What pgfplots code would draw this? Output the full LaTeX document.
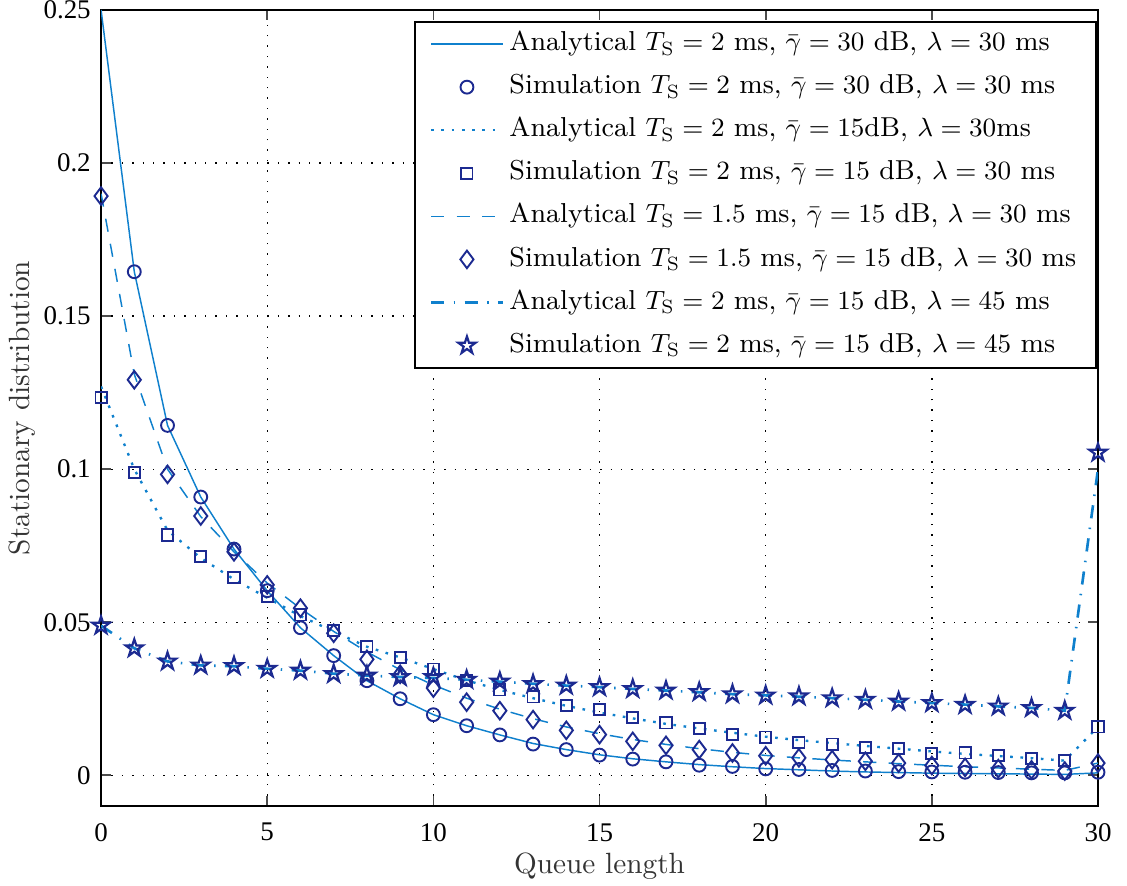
\documentclass[border=0pt]{standalone}
\usepackage{fontspec}
\usepackage{pgfplots}
\pgfplotsset{compat=1.18}
\newfontfamily\timesfont{Liberation Serif}
\definecolor{lineblue}{RGB}{15,128,205}
\definecolor{markblue}{RGB}{28,42,145}
\pgfdeclareplotmark{pentagram}{%
  \pgfpathmoveto{\pgfpointpolar{90}{\pgfplotmarksize}}%
  \pgfpathlineto{\pgfpointpolar{126}{0.382\pgfplotmarksize}}%
  \pgfpathlineto{\pgfpointpolar{162}{\pgfplotmarksize}}%
  \pgfpathlineto{\pgfpointpolar{198}{0.382\pgfplotmarksize}}%
  \pgfpathlineto{\pgfpointpolar{234}{\pgfplotmarksize}}%
  \pgfpathlineto{\pgfpointpolar{270}{0.382\pgfplotmarksize}}%
  \pgfpathlineto{\pgfpointpolar{306}{\pgfplotmarksize}}%
  \pgfpathlineto{\pgfpointpolar{342}{0.382\pgfplotmarksize}}%
  \pgfpathlineto{\pgfpointpolar{18}{\pgfplotmarksize}}%
  \pgfpathlineto{\pgfpointpolar{54}{0.382\pgfplotmarksize}}%
  \pgfpathclose
  \pgfusepathqstroke
}
\begin{document}
\begin{tikzpicture}
\useasboundingbox (-34.5pt,-27.3pt) rectangle (350.2pt,275.1pt);
\begin{axis}[
  scale only axis, width=340.3pt, height=271.7pt,
  xmin=0, xmax=30, ymin=-0.01, ymax=0.25,
  xtick={0,5,10,15,20,25,30}, xticklabels={0,5,10,15,20,25,30},
  ytick={0,0.05,0.1,0.15,0.2,0.25}, yticklabels={0,0.05,0.1,0.15,0.2,0.25},
  tick align=inside, major tick length=3.4pt, tick pos=both,
  grid=major, grid style={black, line width=0.45pt, dash pattern=on 0.45pt off 3.1pt},
  axis line style={line width=0.7pt},
  tick style={line width=0.6pt, black!70},
  tick label style={font=\timesfont\fontsize{9.2}{11}\selectfont},
  xticklabel style={yshift=-2.4pt},
  xlabel={Queue length}, ylabel={Stationary distribution},
  label style={font=\fontsize{10}{12}\selectfont, text=black!80},
  xlabel style={at={(axis description cs:0.5,-0.0755)}, anchor=center},
  ylabel style={at={(axis description cs:-0.0793,0.5)}, anchor=center},
  legend style={at={(1,1)}, anchor=north east, xshift=-0.3pt, yshift=-3.75pt,
    draw=black, line width=0.7pt, font=\fontsize{9.35}{11.2}\selectfont,
    inner xsep=5pt, inner ysep=1.8pt, row sep=3.2pt,
    nodes={inner xsep=1.8pt, inner ysep=1pt, text height=7pt, text depth=2.5pt},
    cells={anchor=west}},
  legend image code/.code={\draw[mark repeat=2,mark phase=2,#1] plot coordinates {(0cm,0cm)(0.43cm,0cm)(0.86cm,0cm)};},
]
% Analytical Ts=2, gamma=30 dB, lambda=30
\addplot[lineblue, line width=0.5pt, solid, no markers] coordinates {
(0,0.25)(1,0.1645)(2,0.1143)(3,0.0909)(4,0.0739)(5,0.0603)(6,0.0482)(7,0.0391)(8,0.0309)(9,0.025)
(10,0.0198)(11,0.0162)(12,0.0132)(13,0.0104)(14,0.0084)(15,0.0067)(16,0.0054)(17,0.0044)(18,0.0035)(19,0.0028)
(20,0.0022)(21,0.0018)(22,0.0014)(23,0.0011)(24,0.0009)(25,0.0007)(26,0.0006)(27,0.0005)(28,0.0004)(29,0.0003)(30,0.0008)};
\addlegendentry{Analytical $T_\mathrm{S}=2$ ms, $\bar{\gamma}=30$ dB, $\lambda=30$ ms}
% Simulation Ts=2, 30 dB
\addplot[only marks, mark=o, mark size=2.2pt, mark options={markblue, line width=0.65pt}] coordinates {
(1,0.1645)(2,0.1143)(3,0.0909)(4,0.0739)(5,0.0603)(6,0.0482)(7,0.0391)(8,0.0309)(9,0.025)
(10,0.0198)(11,0.0162)(12,0.0132)(13,0.0102)(14,0.0084)(15,0.0066)(16,0.0053)(17,0.0044)(18,0.0033)(19,0.0029)
(20,0.0021)(21,0.0019)(22,0.0016)(23,0.0014)(24,0.0012)(25,0.0011)(26,0.0010)(27,0.0009)(28,0.0008)(29,0.0008)(30,0.0010)};
\addlegendentry{Simulation $T_\mathrm{S}=2$ ms, $\bar{\gamma}=30$ dB, $\lambda=30$ ms}
% Analytical Ts=2, 15 dB, 30
\addplot[lineblue, line width=0.8pt, dash pattern=on 0.9pt off 2.6pt, no markers] coordinates {
(0,0.127)(1,0.1)(2,0.08)(3,0.071)(4,0.064)(5,0.058)(6,0.052)(7,0.047)(8,0.042)(9,0.0385)
(10,0.0347)(11,0.031)(12,0.0279)(13,0.0252)(14,0.0227)(15,0.0205)(16,0.0186)(17,0.0168)(18,0.0153)(19,0.0139)
(20,0.0126)(21,0.0115)(22,0.0105)(23,0.0096)(24,0.0087)(25,0.0078)(26,0.0070)(27,0.0063)(28,0.0056)(29,0.0048)(30,0.0158)};
\addlegendentry{Analytical $T_\mathrm{S}=2$ ms, $\bar{\gamma}=15$dB, $\lambda=30$ms}
% Simulation Ts=2, 15 dB
\addplot[only marks, mark=square, mark size=1.9pt, mark options={markblue, line width=0.65pt}] coordinates {
(0,0.1233)(1,0.0989)(2,0.0785)(3,0.0714)(4,0.0647)(5,0.0584)(6,0.0524)(7,0.0472)(8,0.042)(9,0.0385)
(10,0.0347)(11,0.0310)(12,0.0279)(13,0.0256)(14,0.0227)(15,0.0214)(16,0.0189)(17,0.0171)(18,0.0154)(19,0.0134)
(20,0.0125)(21,0.0108)(22,0.0102)(23,0.0091)(24,0.0088)(25,0.0071)(26,0.0073)(27,0.0064)(28,0.0055)(29,0.0049)(30,0.0158)};
\addlegendentry{Simulation $T_\mathrm{S}=2$ ms, $\bar{\gamma}=15$ dB, $\lambda=30$ ms}
% Analytical Ts=1.5, 15 dB, 30
\addplot[lineblue, line width=0.5pt, dash pattern=on 4.5pt off 4.2pt, no markers] coordinates {
(0,0.19)(1,0.131)(2,0.1)(3,0.0845)(4,0.073)(5,0.0628)(6,0.0545)(7,0.047)(8,0.0403)(9,0.0345)
(10,0.0295)(11,0.0252)(12,0.0216)(13,0.0185)(14,0.0158)(15,0.0136)(16,0.0117)(17,0.0101)(18,0.0087)(19,0.0075)
(20,0.0065)(21,0.0057)(22,0.0050)(23,0.0044)(24,0.0038)(25,0.0033)(26,0.0028)(27,0.0024)(28,0.0020)(29,0.0016)(30,0.0040)};
\addlegendentry{Analytical $T_\mathrm{S}=1.5$ ms, $\bar{\gamma}=15$ dB, $\lambda=30$ ms}
% Simulation Ts=1.5
\addplot[only marks, mark=diamond, mark size=3pt, mark options={markblue, line width=0.65pt}] coordinates {
(0,0.1892)(1,0.1292)(2,0.0983)(3,0.0847)(4,0.073)(5,0.0622)(6,0.0546)(7,0.0464)(8,0.0379)(9,0.033)
(10,0.0285)(11,0.0239)(12,0.0211)(13,0.0182)(14,0.0147)(15,0.0133)(16,0.0111)(17,0.0098)(18,0.0084)(19,0.0073)
(20,0.0064)(21,0.0057)(22,0.0051)(23,0.0046)(24,0.004)(25,0.0032)(26,0.0026)(27,0.0022)(28,0.0018)(29,0.0014)(30,0.004)};
\addlegendentry{Simulation $T_\mathrm{S}=1.5$ ms, $\bar{\gamma}=15$ dB, $\lambda=30$ ms}
% Analytical Ts=2, 15 dB, 45
\addplot[lineblue, line width=0.9pt, dash pattern=on 4.5pt off 3.2pt on 0.5pt off 3.2pt, no markers] coordinates {
(0,0.0489)(1,0.0415)(2,0.0372)(3,0.0359)(4,0.0356)(5,0.0348)(6,0.0342)(7,0.0332)(8,0.0326)(9,0.0321)
(10,0.0318)(11,0.0312)(12,0.0306)(13,0.0299)(14,0.0293)(15,0.0288)(16,0.0282)(17,0.0277)(18,0.0271)(19,0.0265)
(20,0.0261)(21,0.0257)(22,0.0252)(23,0.0247)(24,0.0241)(25,0.0236)(26,0.0231)(27,0.0225)(28,0.022)(29,0.0211)(30,0.1)};
\addlegendentry{Analytical $T_\mathrm{S}=2$ ms, $\bar{\gamma}=15$ dB, $\lambda=45$ ms}
% Simulation Ts=2, 15 dB, 45
\addplot[only marks, mark=pentagram, mark size=3.1pt, mark options={markblue, line width=0.75pt}] coordinates {
(0,0.0489)(1,0.0415)(2,0.0372)(3,0.0359)(4,0.0357)(5,0.0348)(6,0.0342)(7,0.0331)(8,0.0326)(9,0.0321)
(10,0.0321)(11,0.0312)(12,0.0306)(13,0.0298)(14,0.0293)(15,0.0288)(16,0.0282)(17,0.0277)(18,0.0272)(19,0.0265)
(20,0.0261)(21,0.0258)(22,0.0252)(23,0.0247)(24,0.0241)(25,0.0236)(26,0.023)(27,0.0225)(28,0.022)(29,0.0211)(30,0.1054)};
\addlegendentry{Simulation $T_\mathrm{S}=2$ ms, $\bar{\gamma}=15$ dB, $\lambda=45$ ms}
\end{axis}
\end{tikzpicture}
\end{document}
